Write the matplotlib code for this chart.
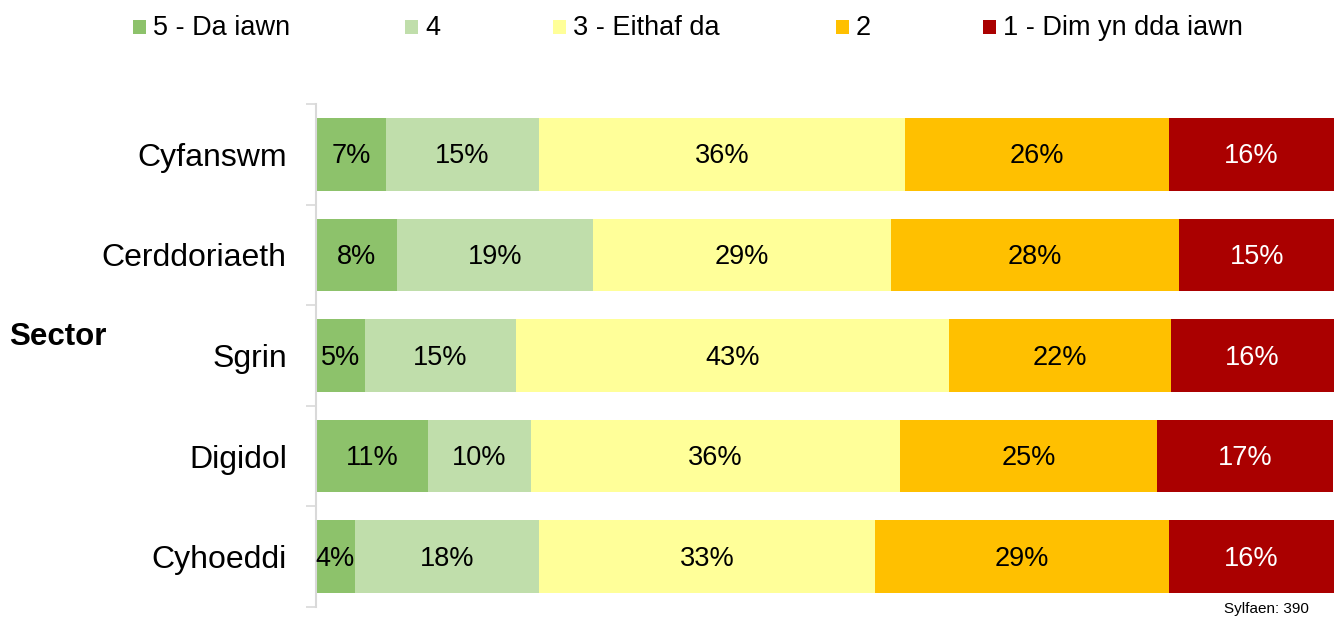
import matplotlib.pyplot as plt
from matplotlib.patches import Rectangle
import numpy as np

plt.rcParams['font.family'] = ['Liberation Sans', 'DejaVu Sans']

# Data (percent of respondents per rating)
categories = ['Cyfanswm', 'Cerddoriaeth', 'Sgrin', 'Digidol', 'Cyhoeddi']
series_names = ['5 - Da iawn', '4', '3 - Eithaf da', '2', '1 - Dim yn dda iawn']
rating5 = [6.9, 8.0, 4.8, 11.0, 3.8]
rating4 = [15.0, 19.2, 14.8, 10.1, 18.1]
rating3 = [36.0, 29.3, 42.6, 36.3, 33.0]
rating2 = [25.9, 28.3, 21.8, 25.2, 28.9]
rating1 = [16.2, 15.3, 16.0, 17.3, 16.2]
base_text = 'Sylfaen: 390'

colors = ['#8DC26B', '#C0DEAB', '#FFFF99', '#FFC000', '#AA0000']
text_colors = ['black', 'black', 'black', 'black', 'white']

fig = plt.figure(figsize=(13.36, 6.17), dpi=100)
ax = fig.add_axes([316 / 1336, 1 - 607 / 617, 1018 / 1336, 503 / 617])

y = np.arange(len(categories))
left = np.zeros(len(categories))
for vals, col, tc in zip([rating5, rating4, rating3, rating2, rating1], colors, text_colors):
    vals = np.array(vals)
    ax.barh(y, vals, left=left, height=0.72, color=col, edgecolor='none')
    for yi, (l, v) in enumerate(zip(left, vals)):
        ax.text(l + v / 2, yi + 0.02, f'{v:.0f}%', ha='center', va='center',
                fontsize=19.5, color=tc)
    left += vals

ax.set_xlim(0, 100)
ax.set_ylim(len(categories) - 0.5, -0.5)
ax.set_xticks([])
ax.set_yticks(y)
ax.set_yticklabels(categories, fontsize=23)
ax.tick_params(axis='y', which='major', length=0, pad=21)
ax.set_yticks(np.arange(-0.5, len(categories), 1), minor=True)
ax.tick_params(axis='y', which='minor', length=7.5, width=1.2, color='#D9D9D9')
for s in ['top', 'right', 'bottom']:
    ax.spines[s].set_visible(False)
ax.spines['left'].set_color('#D9D9D9')
ax.spines['left'].set_linewidth(1.5)

fig.text(9 / 1336, 1 - 337 / 617, 'Sector', fontsize=22.5, fontweight='bold',
         ha='left', va='center')
fig.text(1266 / 1336, 1 - 609 / 617, base_text, fontsize=11, ha='center', va='center')

# Legend drawn by hand to keep the uneven spacing of the original
legend_x = [133, 405, 553, 836, 983]
for lx, name, col in zip(legend_x, series_names, colors):
    fig.add_artist(Rectangle((lx / 1336, 1 - 34 / 617), 13 / 1336, 14 / 617,
                             transform=fig.transFigure, color=col, lw=0))
    fig.text((lx + 20) / 1336, 1 - 28 / 617, name, fontsize=19.5,
             ha='left', va='center')

fig.savefig('out.png', dpi=100)
